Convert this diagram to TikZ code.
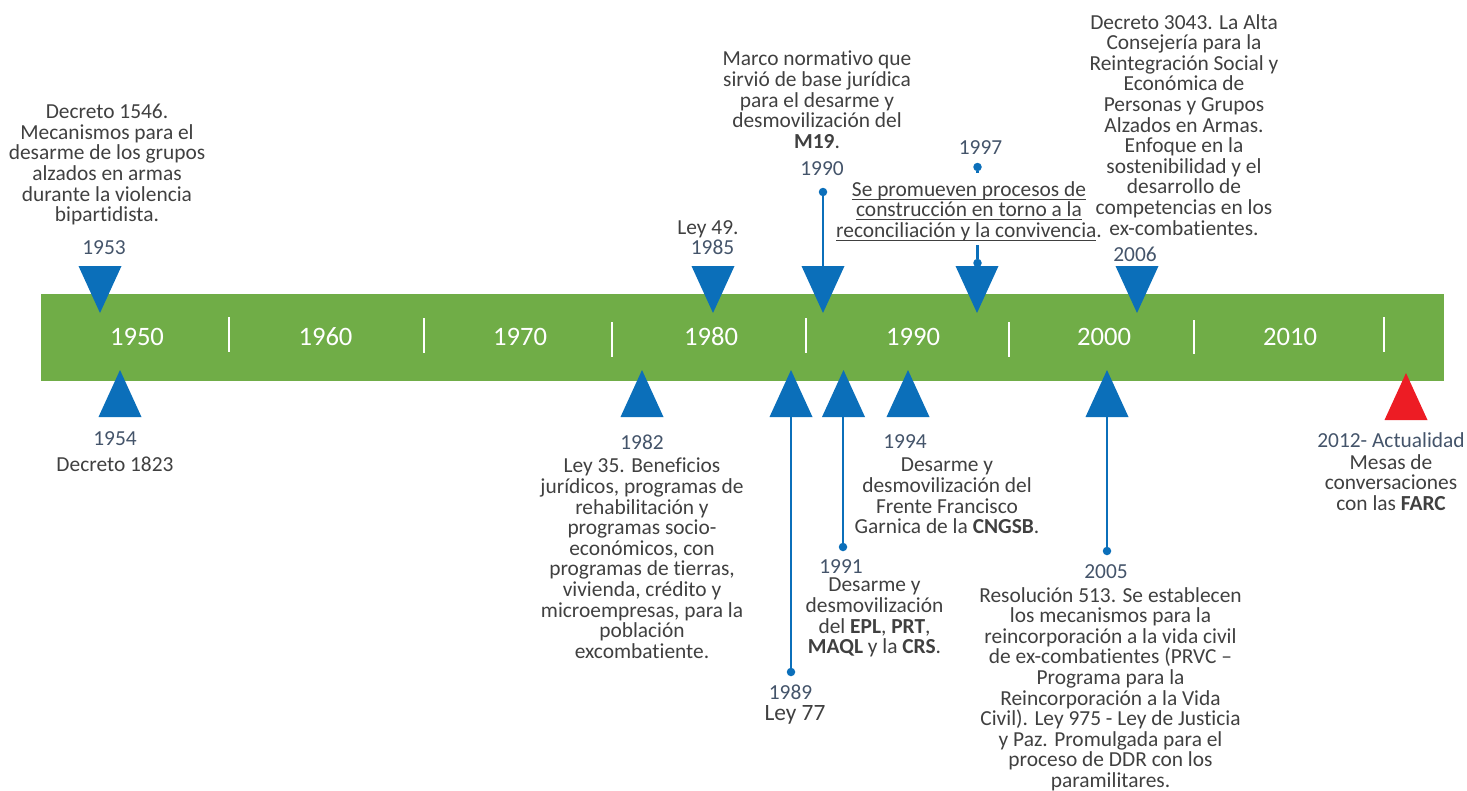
\documentclass[tikz,border=0pt]{standalone}
\usepackage{amsmath}
\usepackage{fontspec}
\setmainfont{Carlito}[Ligatures=NoCommon]
\usepackage{tikz}
\usetikzlibrary{positioning}
\definecolor{bargreen}{HTML}{70AD47}
\definecolor{markblue}{HTML}{0B6FBA}
\definecolor{markred}{HTML}{ED1C24}
\definecolor{yeargray}{HTML}{44546A}
\definecolor{textgray}{HTML}{404040}
\newcommand{\undl}[1]{\underline{\smash[b]{#1}}}
\tikzset{
  decade/.style={text=white,font=\fontsize{26.6}{30}\selectfont,inner sep=0pt},
  yearlabel/.style={
    text=yeargray,font=\fontsize{21.4}{20.6}\selectfont,
    inner sep=0pt,anchor=north
  },
  eventtext/.style={
    text=textgray,font=\fontsize{21.4}{20.6}\selectfont,
    align=center,inner sep=0pt,anchor=north
  },
  divider/.style={draw=white,line width=2pt},
  stemline/.style={draw=markblue,line width=2.5pt},
  stemdot/.style={circle,fill=markblue,inner sep=0pt,minimum size=8.5pt}
}

\begin{document}
\begin{tikzpicture}[x=1pt,y=-1pt]
\useasboundingbox (0,0) rectangle (1467,790);

% the bar with its decades
\fill[bargreen] (41,294) rectangle (1444,381);
\draw[divider] (229,317) -- (229,352);
\draw[divider] (424,318) -- (424,353);
\draw[divider] (612,322) -- (612,357);
\draw[divider] (806,318) -- (806,353);
\draw[divider] (1009,322) -- (1009,357);
\draw[divider] (1194,320) -- (1194,354);
\draw[divider] (1384,317) -- (1384,352);
\node[decade] (d1950) at (137,337) {1950};
\node[decade] (d1960) at (325.5,337) {1960};
\node[decade] (d1970) at (520,337) {1970};
\node[decade] (d1980) at (711,337) {1980};
\node[decade] (d1990) at (913,337) {1990};
\node[decade] (d2000) at (1104,337) {2000};
\node[decade] (d2010) at (1290,337) {2010};

% markers above the bar
\fill[markblue] (78.5,266) -- (121.5,266) -- (100,313) -- cycle;
\fill[markblue] (691.5,266) -- (734.5,266) -- (713,313) -- cycle;
\fill[markblue] (801.5,266) -- (844.5,266) -- (823,313) -- cycle;
\fill[markblue] (955.5,266) -- (998.5,266) -- (977,313) -- cycle;
\fill[markblue] (1115.5,266) -- (1158.5,266) -- (1137,313) -- cycle;

% markers below the bar
\fill[markblue] (98.5,417) -- (141.5,417) -- (120,370) -- cycle;
\fill[markblue] (620.5,417) -- (663.5,417) -- (642,370) -- cycle;
\fill[markblue] (769.5,417) -- (812.5,417) -- (791,370) -- cycle;
\fill[markblue] (822,417) -- (865,417) -- (843.5,370) -- cycle;
\fill[markblue] (886.5,417) -- (929.5,417) -- (908,370) -- cycle;
\fill[markblue] (1085.5,417) -- (1128.5,417) -- (1107,370) -- cycle;
\fill[markred] (1384.5,420) -- (1427.5,420) -- (1406,373) -- cycle;

% texts above
\node[eventtext] (t1953) at (107,104)
{Decreto 1546.\\Mecanismos para el\\desarme de los grupos\\alzados en armas\\durante la violencia\\bipartidista.};
\node[yearlabel] (y1953) at (104,240.5) {1953};
\node[eventtext] (t1985) at (708,220) {Ley 49.};
\node[yearlabel] (y1985) at (712.5,239.5) {1985};
\node[eventtext] (t1990) at (817,51)
{Marco normativo que\\sirvió de base jurídica\\para el desarme y\\desmovilización del\\\textbf{M19}.};
\node[yearlabel] (y1990) at (822,161.5) {1990};
\node[yearlabel] (y1997) at (980.5,140) {1997};
\node[eventtext,inner xsep=0pt,inner ysep=8pt] (t1997) at (969,173)
{\undl{Se promueven procesos de}\\\undl{construcción en torno a la}\\\undl{reconciliación y la convivencia}.};
\node[eventtext] (t2006) at (1184,14)
{Decreto 3043. La Alta\\Consejería para la\\Reintegración Social y\\Económica de\\Personas y Grupos\\Alzados en Armas.\\Enfoque en la\\sostenibilidad y el\\desarrollo de\\competencias en los\\ex-combatientes.};
\node[yearlabel] (y2006) at (1135,246.5) {2006};

% texts below
\node[yearlabel] (y1954) at (115,431.5) {1954};
\node[eventtext] (t1954) at (115,457) {Decreto 1823};
\node[yearlabel] (y1982) at (642,435) {1982};
\node[eventtext] (t1982) at (642,458)
{Ley 35. Beneficios\\jurídicos, programas de\\rehabilitación y\\programas socio-\\económicos, con\\programas de tierras,\\vivienda, crédito y\\microempresas, para la\\población\\excombatiente.};
\node[yearlabel] (y1989) at (790.5,685) {1989};
\node[eventtext,font=\fontsize{23.4}{24}\selectfont] (t1989) at (795,705) {Ley 77};
\node[yearlabel] (y1991) at (841,559) {1991};
\node[eventtext] (t1991) at (874.5,578)
{Desarme y\\desmovilización\\del \textbf{EPL}, \textbf{PRT},\\\textbf{MAQL} y la \textbf{CRS}.};
\node[yearlabel] (y1994) at (905,434) {1994};
\node[eventtext] (t1994) at (947,458)
{Desarme y\\desmovilización del\\Frente Francisco\\Garnica de la \textbf{CNGSB}.};
\node[yearlabel] (y2005) at (1106,564) {2005};
\node[eventtext] (t2005) at (1110.5,587)
{Resolución 513. Se establecen\\los mecanismos para la\\reincorporación a la vida civil\\de ex-combatientes (PRVC –\\Programa para la\\Reincorporación a la Vida\\Civil). Ley 975 - Ley de Justicia\\y Paz. Promulgada para el\\proceso de DDR con los\\paramilitares.};
\node[yearlabel] (y2012) at (1391,432) {2012- Actualidad};
\node[eventtext] (t2012) at (1391,454)
{Mesas de\\conversaciones\\con las \textbf{FARC}};

% stems
\coordinate (m1990) at (823,266);
\node[stemdot] (p1990) at (823,192) {};
\draw[stemline] (p1990) -- (m1990);
\node[stemdot] (p1997) at (977.5,167) {};
\node[stemdot] (q1997) at (977.5,263) {};
\coordinate (s1997) at (977.5,245);
\draw[stemline] (p1997) -- (p1997 |- t1997.north);
\draw[stemline] (s1997) -- (q1997);
\coordinate (m1989) at (791,417);
\node[stemdot] (p1989) at (791,672) {};
\draw[stemline] (m1989) -- (p1989);
\coordinate (m1991) at (843,417);
\node[stemdot] (p1991) at (843,547) {};
\draw[stemline] (m1991) -- (p1991);
\coordinate (m2005) at (1107,417);
\node[stemdot] (p2005) at (1107,551) {};
\draw[stemline] (m2005) -- (p2005);
\end{tikzpicture}
\end{document}
